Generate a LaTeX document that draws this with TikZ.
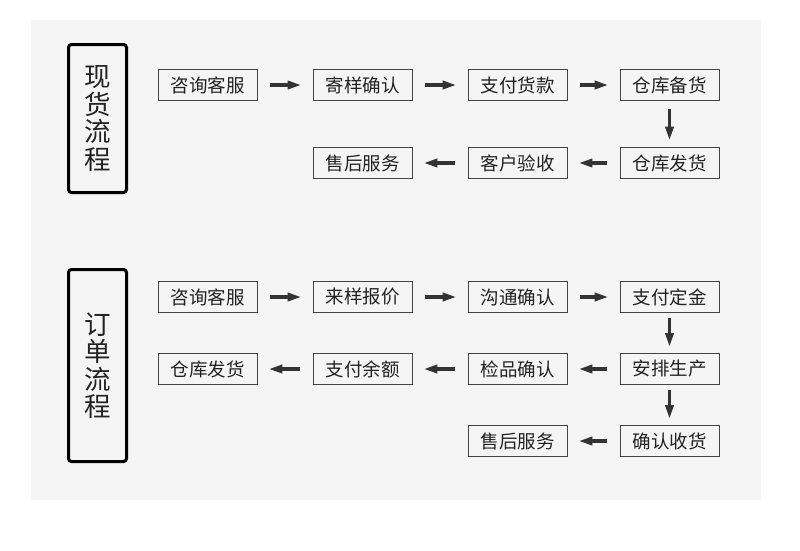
\documentclass[tikz,border=0pt]{standalone}
\usepackage{fontspec}
\setmainfont{Noto Sans CJK SC}
\usetikzlibrary{arrows.meta}
\definecolor{bg}{HTML}{F5F5F5}
\definecolor{boxline}{HTML}{444444}
\definecolor{txt}{HTML}{222222}
\definecolor{arr}{HTML}{333333}
\begin{document}
\begin{tikzpicture}[x=1pt,y=-1pt,
  stepbox/.style={draw=boxline,line width=0.9pt,minimum width=99pt,minimum height=31pt,inner sep=0pt,text=txt,font=\fontsize{18.5}{20}\selectfont},
  titlebox/.style={draw=black,line width=3pt,rounded corners=3pt,minimum width=58pt,inner sep=0pt,text=txt,align=center,font=\fontsize{26.5}{27.5}\selectfont},
  flow/.style={draw=arr,line width=3.5pt,-{Triangle[length=14pt,width=8pt]}},
  hgap/.style={shorten <=13pt,shorten >=11pt},
  vgap/.style={shorten <=5pt,shorten >=6pt}]
\useasboundingbox (0,0) rectangle (800,550);
\fill[bg] (31,20) rectangle (761,500);
% section 1
\node[titlebox,minimum height=148pt] (t1) at (97.5,118.5) {现\\货\\流\\程};
\node[stepbox] (a1) at (207.5,85) {咨询客服};
\node[stepbox] (a2) at (362.5,85) {寄样确认};
\node[stepbox] (a3) at (517.5,85) {支付货款};
\node[stepbox] (a4) at (669.5,85) {仓库备货};
\node[stepbox] (a5) at (669.5,163) {仓库发货};
\node[stepbox] (a6) at (517.5,163) {客户验收};
\node[stepbox] (a7) at (362.5,163) {售后服务};
\draw[flow,hgap] (a1) -- (a2);
\draw[flow,hgap] (a2) -- (a3);
\draw[flow,hgap] (a3) -- (a4);
\draw[flow,shorten <=8.5pt,shorten >=6.5pt] (a4) -- (a5);
\draw[flow,hgap] (a5) -- (a6);
\draw[flow,hgap] (a6) -- (a7);
% section 2
\node[titlebox,minimum height=192pt] (t2) at (97.5,365.5) {订\\单\\流\\程};
\node[stepbox] (b1) at (207.5,297) {咨询客服};
\node[stepbox] (b2) at (362.5,297) {来样报价};
\node[stepbox] (b3) at (517.5,297) {沟通确认};
\node[stepbox] (b4) at (669.5,297) {支付定金};
\node[stepbox] (b5) at (669.5,369) {安排生产};
\node[stepbox] (b6) at (517.5,369) {检品确认};
\node[stepbox] (b7) at (362.5,369) {支付余额};
\node[stepbox] (b8) at (207.5,369) {仓库发货};
\node[stepbox] (b9) at (669.5,441) {确认收货};
\node[stepbox] (b10) at (517.5,441) {售后服务};
\draw[flow,hgap] (b1) -- (b2);
\draw[flow,hgap] (b2) -- (b3);
\draw[flow,hgap] (b3) -- (b4);
\draw[flow,vgap] (b4) -- (b5);
\draw[flow,hgap] (b5) -- (b6);
\draw[flow,hgap] (b6) -- (b7);
\draw[flow,hgap] (b7) -- (b8);
\draw[flow,vgap] (b5) -- (b9);
\draw[flow,hgap] (b9) -- (b10);
\end{tikzpicture}
\end{document}
